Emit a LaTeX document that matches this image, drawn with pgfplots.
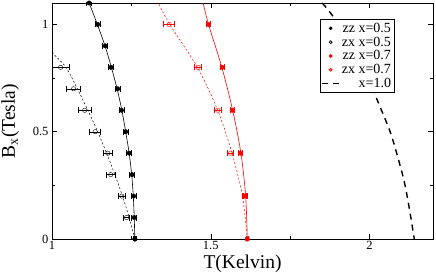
\documentclass[border=0pt]{standalone}
\usepackage{pgfplots}
\pgfplotsset{compat=1.18}
\usepackage{fontspec}
\setmainfont{Liberation Serif}
\begin{document}
\begin{tikzpicture}
\begin{axis}[
  scale only axis, width=381pt, height=236pt,
  xmin=1, xmax=2.2, ymin=0, ymax=1.1,
  xtick={1,1.5,2}, ytick={0,0.5,1},
  xticklabels={1,1.5,2}, yticklabels={0,0.5,1},
  minor x tick num=1, minor y tick num=1,
  tick align=inside, major tick length=5pt, minor tick length=3pt,
  tick style={black, line width=0.5pt},
  axis line style={line width=0.8pt},
  /pgf/number format/assume math mode=true,
  ticklabel style={font=\fontsize{12.5}{14}\selectfont},
  xticklabel style={yshift=1pt},
  xlabel={T(Kelvin)}, ylabel={B\textsubscript{x}(Tesla)},
  label style={font=\fontsize{19.5}{22}\selectfont},
  xlabel style={at={(axis description cs:0.5,-0.1229)}, anchor=base},
  ylabel style={at={(axis description cs:-0.110,0.5)}, anchor=center},
  legend cell align=right,
  legend style={at={(0.90,0.932)}, anchor=north east, font=\fontsize{14}{14}\selectfont, draw=black, line width=0.8pt, row sep=-1pt, inner sep=1.5pt},
  error bars/error mark options={rotate=90, mark size=3pt, line width=0.8pt},
]
% zz x=0.5
\addplot[black, only marks, mark=*, mark size=2.2pt, legend image post style={mark size=1.4pt},
  error bars/.cd, x dir=both, x explicit] table[x=T, y=B, x error=e] {
T B e
1.261 0.0 0.005
1.259 0.1 0.008
1.257 0.2 0.008
1.252 0.3 0.008
1.243 0.4 0.008
1.232 0.5 0.008
1.219 0.6 0.008
1.207 0.7 0.008
1.186 0.8 0.008
1.168 0.9 0.008
1.144 1.0 0.008
1.117 1.1 0.008
};
\addlegendentry{zz x=0.5}
% zx x=0.5
\addplot[black, only marks, mark=o, mark size=2.2pt, mark options={fill=white}, legend image post style={mark size=1.4pt},
  error bars/.cd, x dir=both, x explicit] table[x=T, y=B, x error=e] {
T B e
1.261 0.0 0.003
1.235 0.1 0.010
1.220 0.2 0.012
1.185 0.3 0.015
1.176 0.4 0.015
1.136 0.5 0.018
1.103 0.6 0.020
1.068 0.7 0.022
1.027 0.8 0.027
};
\addlegendentry{zx x=0.5}
% zz x=0.7
\addplot[red, only marks, mark=*, mark size=2.2pt, legend image post style={mark size=1.4pt},
  error bars/.cd, x dir=both, x explicit] table[x=T, y=B, x error=e] {
T B e
1.615 0.0 0.004
1.608 0.2 0.006
1.594 0.4 0.006
1.568 0.6 0.006
1.536 0.8 0.006
1.493 1.0 0.006
};
\addlegendentry{zz x=0.7}
% zx x=0.7
\addplot[red, only marks, mark=o, mark size=2.2pt, mark options={fill=white}, legend image post style={mark size=1.4pt},
  error bars/.cd, x dir=both, x explicit] table[x=T, y=B, x error=e] {
T B e
1.615 0.0 0.003
1.605 0.2 0.006
1.562 0.4 0.008
1.522 0.6 0.010
1.460 0.8 0.012
1.369 1.0 0.018
};
\addlegendentry{zx x=0.7}
% x=1.0 dashed
\addplot[black, line width=1.4pt, dash pattern=on 6pt off 5pt, smooth] coordinates {
(1.851,1.1) (1.879,1.05) (1.935,0.93) (1.985,0.80) (2.021,0.66) (2.065,0.50) (2.095,0.35) (2.112,0.25) (2.128,0.12) (2.141,0)
};
\addlegendentry{x=1.0}
% curves
\addplot[black, line width=0.6pt, smooth, forget plot] coordinates {
(1.261,0) (1.259,0.1) (1.256,0.2) (1.251,0.3) (1.243,0.4) (1.232,0.5) (1.220,0.6) (1.205,0.7) (1.187,0.8) (1.167,0.9) (1.143,1.0) (1.117,1.1)
};
\addplot[black, line width=0.5pt, dash pattern=on 2pt off 2pt, smooth, forget plot] coordinates {
(1.261,0) (1.243,0.1) (1.222,0.2) (1.198,0.3) (1.172,0.4) (1.144,0.5) (1.113,0.6) (1.080,0.7) (1.044,0.8) (1.0,0.87) (0.99,0.89)
};
\addplot[red, line width=0.6pt, smooth, forget plot] coordinates {
(1.615,0) (1.610,0.2) (1.595,0.4) (1.569,0.6) (1.535,0.8) (1.493,1.0) (1.476,1.1)
};
\addplot[red, line width=0.5pt, dash pattern=on 2pt off 2pt, smooth, forget plot] coordinates {
(1.615,0) (1.600,0.2) (1.567,0.4) (1.522,0.6) (1.458,0.8) (1.371,1.0) (1.335,1.1)
};
\end{axis}
\pgfresetboundingbox
\path ([shift={(-52pt,-34pt)}]current axis.south west) rectangle ([shift={(3pt,3pt)}]current axis.north east);
\end{tikzpicture}
\end{document}
